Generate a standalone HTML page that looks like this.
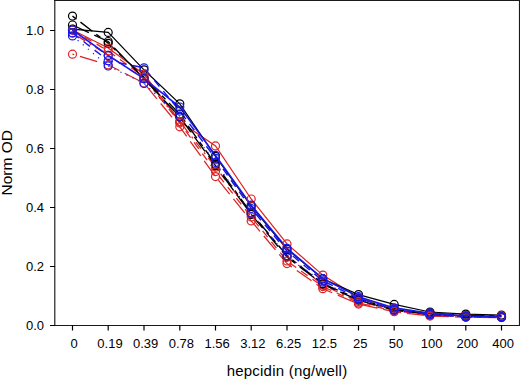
<!DOCTYPE html>
<html><head><meta charset="utf-8"><style>
html,body{margin:0;padding:0;background:#fff;width:520px;height:380px;overflow:hidden}
svg{display:block}
text{font-family:"Liberation Sans",sans-serif;font-size:13px;fill:#000}
</style></head><body>
<svg width="520" height="380" viewBox="0 0 520 380">
<g fill="none">
<path d="M72.5 54.2 L108.2 64.8 L144.0 83.1 L179.8 126.8 L215.5 176.6 L251.2 220.9 L287.0 263.6 L322.8 288.7 L358.5 304.1 L394.2 311.7 L430.0 316.1 L465.8 317.3 L501.5 317.6" stroke="#dd2222" stroke-width="1.25" stroke-dasharray="18 6" stroke-dashoffset="16.2"/>
<path d="M72.5 30.0 L108.2 50.9 L144.0 77.2 L179.8 122.9 L215.5 171.6 L251.2 217.0 L287.0 261.0 L322.8 286.6 L358.5 302.9 L394.2 310.8 L430.0 315.3 L465.8 316.7 L501.5 317.0" stroke="#dd2222" stroke-width="1.25" stroke-dasharray="8 6"/>
<path d="M72.5 32.9 L108.2 55.4 L144.0 78.7 L179.8 121.5 L215.5 167.2 L251.2 213.2 L287.0 255.7 L322.8 285.2 L358.5 301.4 L394.2 310.2 L430.0 315.0 L465.8 316.4 L501.5 316.7" stroke="#dd2222" stroke-width="1.25" stroke-dasharray="2 5 8 5"/>
<path d="M72.5 30.0 L108.2 48.0 L144.0 74.2 L179.8 121.5 L215.5 145.9 L251.2 199.0 L287.0 243.9 L322.8 275.1 L358.5 297.6 L394.2 308.5 L430.0 313.8 L465.8 315.6 L501.5 315.9" stroke="#dd2222" stroke-width="1.25"/>
<path d="M72.5 29.1 L108.2 32.4 L144.0 69.8 L179.8 103.8 L215.5 156.3 L251.2 206.1 L287.0 249.2 L322.8 278.7 L358.5 294.6 L394.2 304.4 L430.0 312.0 L465.8 314.1 L501.5 315.0" stroke="#000000" stroke-width="1.2"/>
<path d="M72.5 16.1 L108.2 43.3 L144.0 77.2 L179.8 114.1 L215.5 164.2 L251.2 212.9 L287.0 255.7 L322.8 283.7 L358.5 299.0 L394.2 309.7 L430.0 313.2 L465.8 315.3 L501.5 316.1" stroke="#000000" stroke-width="1.35" stroke-dasharray="5 5 15 5"/>
<path d="M72.5 25.0 L108.2 41.5 L144.0 78.7 L179.8 117.0 L215.5 165.7 L251.2 214.4 L287.0 257.1 L322.8 284.3 L358.5 300.2 L394.2 310.2 L430.0 314.4 L465.8 316.1 L501.5 316.7" stroke="#000000" stroke-width="1.35" stroke-dasharray="18 6"/>
<path d="M72.5 35.9 L108.2 66.0 L144.0 83.4 L179.8 116.4 L215.5 162.5 L251.2 213.2 L287.0 255.7 L322.8 282.2 L358.5 299.6 L394.2 310.2 L430.0 314.7 L465.8 316.7 L501.5 317.3" stroke="#1818e8" stroke-width="1.2" stroke-dasharray="1.2 5.5"/>
<path d="M72.5 32.9 L108.2 60.7 L144.0 67.8 L179.8 111.1 L215.5 158.3 L251.2 208.5 L287.0 251.2 L322.8 280.8 L358.5 298.4 L394.2 309.7 L430.0 314.4 L465.8 317.0 L501.5 317.3" stroke="#1818e8" stroke-width="1.45" stroke-dasharray="8 6"/>
<path d="M72.5 30.0 L108.2 55.4 L144.0 78.7 L179.8 107.0 L215.5 155.4 L251.2 205.2 L287.0 248.3 L322.8 278.7 L358.5 296.7 L394.2 307.9 L430.0 313.2 L465.8 316.1 L501.5 316.7" stroke="#1818e8" stroke-width="1.6"/>
</g>
<g fill="none" stroke-width="1.2">
<circle cx="72.5" cy="29.1" r="4.0" stroke="#000000"/>
<circle cx="72.5" cy="16.1" r="4.0" stroke="#000000"/>
<circle cx="72.5" cy="25.0" r="4.0" stroke="#000000"/>
<circle cx="72.5" cy="54.2" r="4.0" stroke="#dd2222"/>
<circle cx="72.5" cy="30.0" r="4.0" stroke="#dd2222"/>
<circle cx="72.5" cy="32.9" r="4.0" stroke="#dd2222"/>
<circle cx="72.5" cy="30.0" r="4.0" stroke="#dd2222"/>
<circle cx="72.5" cy="35.9" r="4.0" stroke="#1818e8"/>
<circle cx="72.5" cy="32.9" r="4.0" stroke="#1818e8"/>
<circle cx="72.5" cy="30.0" r="4.0" stroke="#1818e8"/>
<circle cx="108.2" cy="32.4" r="4.0" stroke="#000000"/>
<circle cx="108.2" cy="43.3" r="4.0" stroke="#000000"/>
<circle cx="108.2" cy="41.5" r="4.0" stroke="#000000"/>
<circle cx="108.2" cy="64.8" r="4.0" stroke="#dd2222"/>
<circle cx="108.2" cy="50.9" r="4.0" stroke="#dd2222"/>
<circle cx="108.2" cy="55.4" r="4.0" stroke="#dd2222"/>
<circle cx="108.2" cy="48.0" r="4.0" stroke="#dd2222"/>
<circle cx="108.2" cy="66.0" r="4.0" stroke="#1818e8"/>
<circle cx="108.2" cy="60.7" r="4.0" stroke="#1818e8"/>
<circle cx="108.2" cy="55.4" r="4.0" stroke="#1818e8"/>
<circle cx="144.0" cy="69.8" r="4.0" stroke="#000000"/>
<circle cx="144.0" cy="77.2" r="4.0" stroke="#000000"/>
<circle cx="144.0" cy="78.7" r="4.0" stroke="#000000"/>
<circle cx="144.0" cy="83.1" r="4.0" stroke="#dd2222"/>
<circle cx="144.0" cy="77.2" r="4.0" stroke="#dd2222"/>
<circle cx="144.0" cy="78.7" r="4.0" stroke="#dd2222"/>
<circle cx="144.0" cy="74.2" r="4.0" stroke="#dd2222"/>
<circle cx="144.0" cy="83.4" r="4.0" stroke="#1818e8"/>
<circle cx="144.0" cy="67.8" r="4.0" stroke="#1818e8"/>
<circle cx="144.0" cy="78.7" r="4.0" stroke="#1818e8"/>
<circle cx="179.8" cy="103.8" r="4.0" stroke="#000000"/>
<circle cx="179.8" cy="114.1" r="4.0" stroke="#000000"/>
<circle cx="179.8" cy="117.0" r="4.0" stroke="#000000"/>
<circle cx="179.8" cy="126.8" r="4.0" stroke="#dd2222"/>
<circle cx="179.8" cy="122.9" r="4.0" stroke="#dd2222"/>
<circle cx="179.8" cy="121.5" r="4.0" stroke="#dd2222"/>
<circle cx="179.8" cy="121.5" r="4.0" stroke="#dd2222"/>
<circle cx="179.8" cy="116.4" r="4.0" stroke="#1818e8"/>
<circle cx="179.8" cy="111.1" r="4.0" stroke="#1818e8"/>
<circle cx="179.8" cy="107.0" r="4.0" stroke="#1818e8"/>
<circle cx="215.5" cy="156.3" r="4.0" stroke="#000000"/>
<circle cx="215.5" cy="164.2" r="4.0" stroke="#000000"/>
<circle cx="215.5" cy="165.7" r="4.0" stroke="#000000"/>
<circle cx="215.5" cy="176.6" r="4.0" stroke="#dd2222"/>
<circle cx="215.5" cy="171.6" r="4.0" stroke="#dd2222"/>
<circle cx="215.5" cy="167.2" r="4.0" stroke="#dd2222"/>
<circle cx="215.5" cy="145.9" r="4.0" stroke="#dd2222"/>
<circle cx="215.5" cy="162.5" r="4.0" stroke="#1818e8"/>
<circle cx="215.5" cy="158.3" r="4.0" stroke="#1818e8"/>
<circle cx="215.5" cy="155.4" r="4.0" stroke="#1818e8"/>
<circle cx="251.2" cy="206.1" r="4.0" stroke="#000000"/>
<circle cx="251.2" cy="212.9" r="4.0" stroke="#000000"/>
<circle cx="251.2" cy="214.4" r="4.0" stroke="#000000"/>
<circle cx="251.2" cy="220.9" r="4.0" stroke="#dd2222"/>
<circle cx="251.2" cy="217.0" r="4.0" stroke="#dd2222"/>
<circle cx="251.2" cy="213.2" r="4.0" stroke="#dd2222"/>
<circle cx="251.2" cy="199.0" r="4.0" stroke="#dd2222"/>
<circle cx="251.2" cy="213.2" r="4.0" stroke="#1818e8"/>
<circle cx="251.2" cy="208.5" r="4.0" stroke="#1818e8"/>
<circle cx="251.2" cy="205.2" r="4.0" stroke="#1818e8"/>
<circle cx="287.0" cy="249.2" r="4.0" stroke="#000000"/>
<circle cx="287.0" cy="255.7" r="4.0" stroke="#000000"/>
<circle cx="287.0" cy="257.1" r="4.0" stroke="#000000"/>
<circle cx="287.0" cy="263.6" r="4.0" stroke="#dd2222"/>
<circle cx="287.0" cy="261.0" r="4.0" stroke="#dd2222"/>
<circle cx="287.0" cy="255.7" r="4.0" stroke="#dd2222"/>
<circle cx="287.0" cy="243.9" r="4.0" stroke="#dd2222"/>
<circle cx="287.0" cy="255.7" r="4.0" stroke="#1818e8"/>
<circle cx="287.0" cy="251.2" r="4.0" stroke="#1818e8"/>
<circle cx="287.0" cy="248.3" r="4.0" stroke="#1818e8"/>
<circle cx="322.8" cy="278.7" r="4.0" stroke="#000000"/>
<circle cx="322.8" cy="283.7" r="4.0" stroke="#000000"/>
<circle cx="322.8" cy="284.3" r="4.0" stroke="#000000"/>
<circle cx="322.8" cy="288.7" r="4.0" stroke="#dd2222"/>
<circle cx="322.8" cy="286.6" r="4.0" stroke="#dd2222"/>
<circle cx="322.8" cy="285.2" r="4.0" stroke="#dd2222"/>
<circle cx="322.8" cy="275.1" r="4.0" stroke="#dd2222"/>
<circle cx="322.8" cy="282.2" r="4.0" stroke="#1818e8"/>
<circle cx="322.8" cy="280.8" r="4.0" stroke="#1818e8"/>
<circle cx="322.8" cy="278.7" r="4.0" stroke="#1818e8"/>
<circle cx="358.5" cy="294.6" r="4.0" stroke="#000000"/>
<circle cx="358.5" cy="299.0" r="4.0" stroke="#000000"/>
<circle cx="358.5" cy="300.2" r="4.0" stroke="#000000"/>
<circle cx="358.5" cy="304.1" r="4.0" stroke="#dd2222"/>
<circle cx="358.5" cy="302.9" r="4.0" stroke="#dd2222"/>
<circle cx="358.5" cy="301.4" r="4.0" stroke="#dd2222"/>
<circle cx="358.5" cy="297.6" r="4.0" stroke="#dd2222"/>
<circle cx="358.5" cy="299.6" r="4.0" stroke="#1818e8"/>
<circle cx="358.5" cy="298.4" r="4.0" stroke="#1818e8"/>
<circle cx="358.5" cy="296.7" r="4.0" stroke="#1818e8"/>
<circle cx="394.2" cy="304.4" r="4.0" stroke="#000000"/>
<circle cx="394.2" cy="309.7" r="4.0" stroke="#000000"/>
<circle cx="394.2" cy="310.2" r="4.0" stroke="#000000"/>
<circle cx="394.2" cy="311.7" r="4.0" stroke="#dd2222"/>
<circle cx="394.2" cy="310.8" r="4.0" stroke="#dd2222"/>
<circle cx="394.2" cy="310.2" r="4.0" stroke="#dd2222"/>
<circle cx="394.2" cy="308.5" r="4.0" stroke="#dd2222"/>
<circle cx="394.2" cy="310.2" r="4.0" stroke="#1818e8"/>
<circle cx="394.2" cy="309.7" r="4.0" stroke="#1818e8"/>
<circle cx="394.2" cy="307.9" r="4.0" stroke="#1818e8"/>
<circle cx="430.0" cy="312.0" r="4.0" stroke="#000000"/>
<circle cx="430.0" cy="313.2" r="4.0" stroke="#000000"/>
<circle cx="430.0" cy="314.4" r="4.0" stroke="#000000"/>
<circle cx="430.0" cy="316.1" r="4.0" stroke="#dd2222"/>
<circle cx="430.0" cy="315.3" r="4.0" stroke="#dd2222"/>
<circle cx="430.0" cy="315.0" r="4.0" stroke="#dd2222"/>
<circle cx="430.0" cy="313.8" r="4.0" stroke="#dd2222"/>
<circle cx="430.0" cy="314.7" r="4.0" stroke="#1818e8"/>
<circle cx="430.0" cy="314.4" r="4.0" stroke="#1818e8"/>
<circle cx="430.0" cy="313.2" r="4.0" stroke="#1818e8"/>
<circle cx="465.8" cy="314.1" r="4.0" stroke="#000000"/>
<circle cx="465.8" cy="315.3" r="4.0" stroke="#000000"/>
<circle cx="465.8" cy="316.1" r="4.0" stroke="#000000"/>
<circle cx="465.8" cy="317.3" r="4.0" stroke="#dd2222"/>
<circle cx="465.8" cy="316.7" r="4.0" stroke="#dd2222"/>
<circle cx="465.8" cy="316.4" r="4.0" stroke="#dd2222"/>
<circle cx="465.8" cy="315.6" r="4.0" stroke="#dd2222"/>
<circle cx="465.8" cy="316.7" r="4.0" stroke="#1818e8"/>
<circle cx="465.8" cy="317.0" r="4.0" stroke="#1818e8"/>
<circle cx="465.8" cy="316.1" r="4.0" stroke="#1818e8"/>
<circle cx="501.5" cy="315.0" r="4.0" stroke="#000000"/>
<circle cx="501.5" cy="316.1" r="4.0" stroke="#000000"/>
<circle cx="501.5" cy="316.7" r="4.0" stroke="#000000"/>
<circle cx="501.5" cy="317.6" r="4.0" stroke="#dd2222"/>
<circle cx="501.5" cy="317.0" r="4.0" stroke="#dd2222"/>
<circle cx="501.5" cy="316.7" r="4.0" stroke="#dd2222"/>
<circle cx="501.5" cy="315.9" r="4.0" stroke="#dd2222"/>
<circle cx="501.5" cy="317.3" r="4.0" stroke="#1818e8"/>
<circle cx="501.5" cy="317.3" r="4.0" stroke="#1818e8"/>
<circle cx="501.5" cy="316.7" r="4.0" stroke="#1818e8"/>
</g>
<path d="M54.8 0V326M519.5 0V326M54 0.5H520M54 325.5H520" fill="none" stroke="#1a1a1a" stroke-width="1.15"/>
<path d="M50 325.5H55M50 266.5H55M50 207.5H55M50 148.5H55M50 89.5H55M50 30.5H55M72.5 325V330.5M108.2 325V330.5M144.0 325V330.5M179.8 325V330.5M215.5 325V330.5M251.2 325V330.5M287.0 325V330.5M322.8 325V330.5M358.5 325V330.5M394.2 325V330.5M430.0 325V330.5M465.8 325V330.5M501.5 325V330.5" stroke="#000" stroke-width="1.2" fill="none"/>
<text x="44" y="329.6" text-anchor="end">0.0</text>
<text x="44" y="270.6" text-anchor="end">0.2</text>
<text x="44" y="211.6" text-anchor="end">0.4</text>
<text x="44" y="152.6" text-anchor="end">0.6</text>
<text x="44" y="93.6" text-anchor="end">0.8</text>
<text x="44" y="34.6" text-anchor="end">1.0</text>
<text x="74.2" y="348.3" text-anchor="middle">0</text>
<text x="110.0" y="348.3" text-anchor="middle">0.19</text>
<text x="145.7" y="348.3" text-anchor="middle">0.39</text>
<text x="181.4" y="348.3" text-anchor="middle">0.78</text>
<text x="217.2" y="348.3" text-anchor="middle">1.56</text>
<text x="252.9" y="348.3" text-anchor="middle">3.12</text>
<text x="288.7" y="348.3" text-anchor="middle">6.25</text>
<text x="324.4" y="348.3" text-anchor="middle">12.5</text>
<text x="360.2" y="348.3" text-anchor="middle">25</text>
<text x="395.9" y="348.3" text-anchor="middle">50</text>
<text x="431.7" y="348.3" text-anchor="middle">100</text>
<text x="467.4" y="348.3" text-anchor="middle">200</text>
<text x="503.2" y="348.3" text-anchor="middle">400</text>
<text x="287" y="376" text-anchor="middle" style="font-size:15px;letter-spacing:0.22px">hepcidin (ng/well)</text>
<text transform="translate(12 162.8) rotate(-90)" text-anchor="middle" style="font-size:15.5px">Norm OD</text>
</svg>
</body></html>
